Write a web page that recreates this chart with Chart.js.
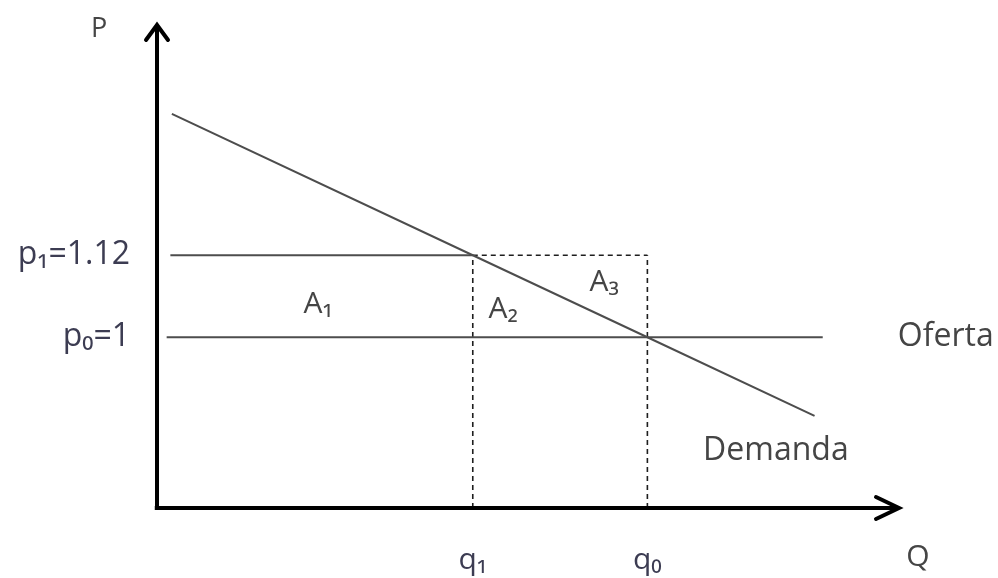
<!DOCTYPE html>
<html>
<head>
<meta charset="utf-8">
<script src="https://cdn.jsdelivr.net/npm/chart.js@4/dist/chart.umd.min.js"></script>
<style>
  html, body { margin: 0; padding: 0; background: #fff; }
  #wrap { width: 998px; height: 578px; }
</style>
</head>
<body>
<div id="wrap"><canvas id="chart"></canvas></div>
<script>
// prices
const p0 = 1;
const p1 = 1.12;
// quantities (schematic units along Q)
const q1 = 42.5;
const q0 = 66;

const qMin = 0, qMax = 100;
const pMin = 0.75, pMax = 1.46;

// demand curve
const demandQ = [2, q1, q0, 88.5];
const demandP = [1.327, p1, p0, 0.885];
// supply (flat at p0)
const ofertaQ = [1.3, 89.6];
// p1 solid part
const p1LineQ = [1.8, q1];

const yTicks = [p0, p1];
const yTickLabels = ["p₀=1", "p₁=1.12"];
const xTicks = [q1, q0];
const xTickLabels = ["q₁", "q₀"];

// free text, placed in data units
const notes = [
  { text: "P", q: -7.8, p: 1.451, size: 27, align: "center" },
  { text: "Q", q: 102.4, p: 0.678, size: 30, align: "center" },
  { text: "A₁", q: 21.7, p: 1.048, size: 30, align: "center" },
  { text: "A₂", q: 46.6, p: 1.041, size: 30, align: "center" },
  { text: "A₃", q: 60.2, p: 1.080, size: 30, align: "center" },
  { text: "Oferta", q: 99.7, p: 1.0, size: 32, align: "left" },
  { text: "Demanda", q: 73.5, p: 0.833, size: 32, align: "left" },
];

const pts = (xs, ys) => xs.map((x, i) => ({ x: x, y: ys[i] }));
const FONT = "'Open Sans', 'Noto Sans', sans-serif";

const lineGray = "#4d4d4d";
const dashCol = "#1e1e1e";

const datasets = [
  // axes
  { data: [{ x: qMin, y: pMin }, { x: qMin, y: pMax - 0.003 }], borderColor: "#000", borderWidth: 4 },
  { data: [{ x: qMin - 0.3, y: pMin }, { x: qMax - 0.3, y: pMin }], borderColor: "#000", borderWidth: 4 },
  // demand
  { data: pts(demandQ, demandP), borderColor: lineGray, borderWidth: 2 },
  // oferta
  { data: pts(ofertaQ, [p0, p0]), borderColor: lineGray, borderWidth: 2 },
  // p1 solid
  { data: pts(p1LineQ, [p1, p1]), borderColor: lineGray, borderWidth: 2 },
  // dashed rectangle parts
  { data: pts([q1, q0], [p1, p1]), borderColor: dashCol, borderWidth: 1.6, borderDash: [5, 4] },
  { data: pts([q1, q1], [pMin, p1]), borderColor: dashCol, borderWidth: 1.6, borderDash: [5, 4] },
  { data: pts([q0, q0], [pMin, p1]), borderColor: dashCol, borderWidth: 1.6, borderDash: [5, 4] },
].map((d) => Object.assign({ showLine: true, pointRadius: 0, clip: false, fill: false, tension: 0 }, d));

const extras = {
  id: "extras",
  afterDatasetsDraw(chart) {
    const { ctx } = chart;
    const xs = chart.scales.x, ys = chart.scales.y;
    const ox = xs.getPixelForValue(qMin), top = ys.getPixelForValue(pMax);
    const oy = ys.getPixelForValue(pMin), right = xs.getPixelForValue(qMax);
    ctx.save();
    // arrow heads
    ctx.strokeStyle = "#000";
    ctx.lineWidth = 4;
    ctx.lineCap = "round";
    ctx.lineJoin = "miter";
    ctx.beginPath();
    ctx.moveTo(ox - 11, top + 17);
    ctx.lineTo(ox, top + 2);
    ctx.lineTo(ox + 11, top + 17);
    ctx.stroke();
    ctx.beginPath();
    ctx.moveTo(right - 24, oy - 11);
    ctx.lineTo(right - 1, oy);
    ctx.lineTo(right - 24, oy + 11);
    ctx.stroke();
    // labels
    ctx.fillStyle = "#454545";
    ctx.textBaseline = "middle";
    notes.forEach((n) => {
      ctx.font = n.size + "px " + FONT;
      ctx.textAlign = n.align;
      ctx.fillText(n.text, xs.getPixelForValue(n.q), ys.getPixelForValue(n.p));
    });
    ctx.restore();
  },
};

new Chart(document.getElementById("chart"), {
  type: "scatter",
  data: { datasets: datasets },
  plugins: [extras],
  options: {
    responsive: true,
    maintainAspectRatio: false,
    animation: false,
    layout: { padding: { left: 12, right: 98, top: 23, bottom: 0 } },
    plugins: { legend: { display: false }, tooltip: { enabled: false } },
    scales: {
      x: {
        type: "linear",
        min: qMin,
        max: qMax,
        grid: { display: false, drawTicks: false },
        border: { display: false },
        afterBuildTicks: (s) => { s.ticks = xTicks.map((v) => ({ value: v })); },
        afterFit: (s) => { s.height = 70; s.paddingLeft = 0; s.paddingRight = 0; },
        ticks: {
          padding: 34,
          autoSkip: false,
          maxRotation: 0,
          color: "#3c3c52",
          font: { family: FONT, size: 30 },
          callback: (v, i) => xTickLabels[i],
        },
      },
      y: {
        type: "linear",
        min: pMin,
        max: pMax,
        grid: { display: false, drawTicks: false },
        border: { display: false },
        afterBuildTicks: (s) => { s.ticks = yTicks.map((v) => ({ value: v })); },
        afterFit: (s) => { s.width = 145; s.paddingTop = 0; s.paddingBottom = 0; },
        ticks: {
          padding: 27,
          autoSkip: false,
          color: "#3c3c52",
          font: { family: FONT, size: 32 },
          callback: (v, i) => yTickLabels[i],
        },
      },
    },
  },
});
</script>
</body>
</html>
